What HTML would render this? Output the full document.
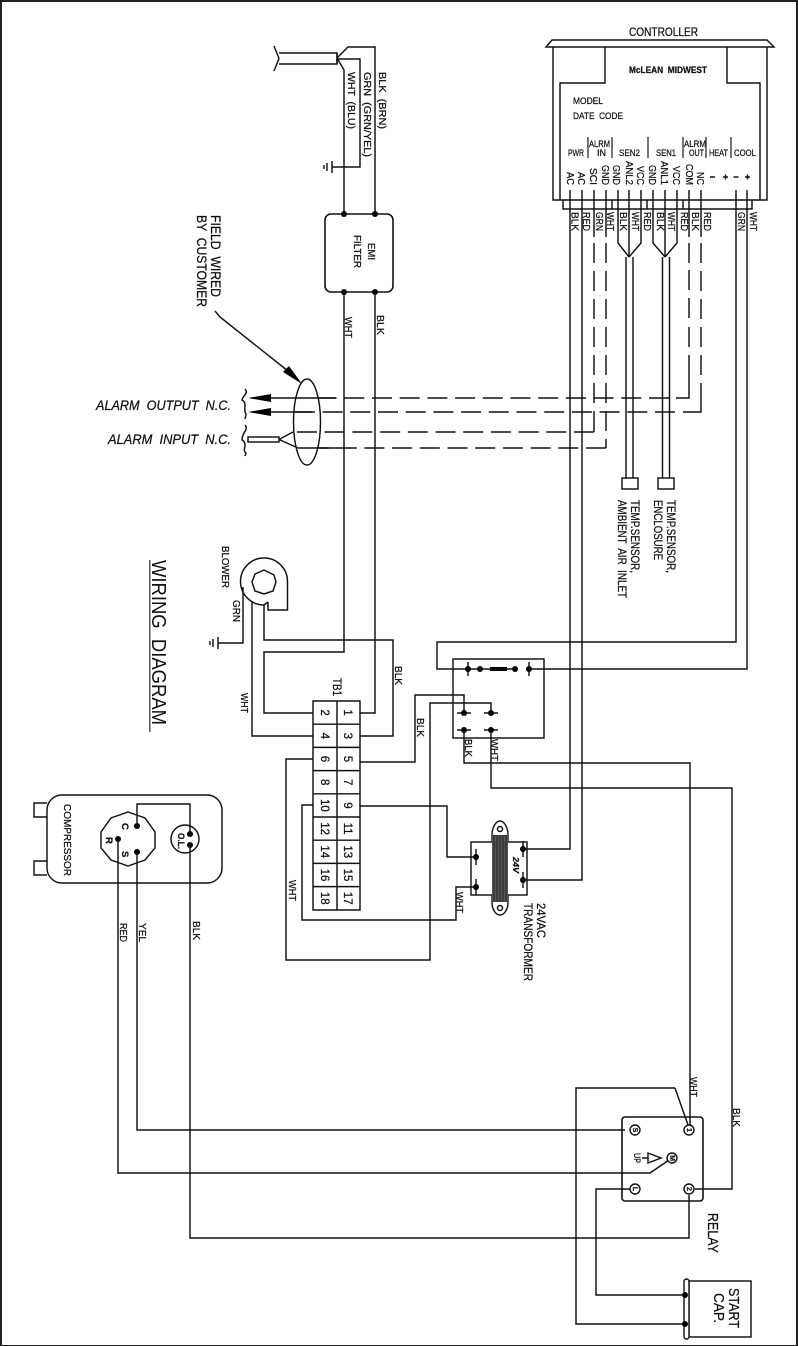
<!DOCTYPE html>
<html><head><meta charset="utf-8"><title>Wiring Diagram</title>
<style>
html,body{margin:0;padding:0;background:#fff}
svg{display:block}
text{font-family:"Liberation Sans",sans-serif;fill:#111;stroke:#111;stroke-width:.25px;white-space:pre}
.w{fill:none;stroke:#111;stroke-width:1.45}
.d{fill:none;stroke:#111;stroke-width:1.45;stroke-dasharray:20 7.7}
.n{fill:#000;stroke:none}
.f9{font-size:9.5px}.f10{font-size:10.5px}.f11{font-size:11.5px}.f13{font-size:13.5px}.f14{font-size:14.5px}
</style></head><body>
<svg width="798" height="1346" viewBox="0 0 798 1346" xmlns="http://www.w3.org/2000/svg">
<rect width="798" height="1346" fill="#fff"/>
<rect x="0" y="0" width="798" height="2" fill="#222"/>
<rect x="0" y="0" width="2" height="1346" fill="#222"/>
<rect x="796" y="0" width="2" height="1346" fill="#222"/>
<rect x="0" y="1345" width="798" height="1" fill="#222"/>

<!-- Controller -->
<path class="w" d="M546 47L552 40H767L774 47Z"/>
<path class="w" d="M553 47V200H767V47"/>
<path class="w" d="M605 47V83H560V200M727 47V83H760V200"/>
<path class="w" d="M563 200V209H752V200M612 200V209M647 200V209M683 200V209"/>
<path class="w" stroke-opacity=".8" d="M588 137V158M612 137V158M648 137V158M683 137V158M706 137V158M731 137V158"/>
<text x="629" y="36" class="f11" textLength="69" lengthAdjust="spacingAndGlyphs">CONTROLLER</text>
<text x="629" y="73" class="f9" font-weight="bold" textLength="78" lengthAdjust="spacingAndGlyphs">McLEAN  MIDWEST</text>
<text x="573" y="104" class="f9" textLength="30" lengthAdjust="spacingAndGlyphs">MODEL</text>
<text x="573" y="119" class="f9" textLength="50" lengthAdjust="spacingAndGlyphs">DATE  CODE</text>
<text x="568" y="156" class="f9" textLength="16" lengthAdjust="spacingAndGlyphs">PWR</text>
<text x="589" y="147" class="f9" textLength="21" lengthAdjust="spacingAndGlyphs">ALRM</text>
<text x="597" y="156" class="f9" textLength="9" lengthAdjust="spacingAndGlyphs">IN</text>
<text x="619" y="156" class="f9" textLength="21" lengthAdjust="spacingAndGlyphs">SEN2</text>
<text x="656" y="156" class="f9" textLength="20" lengthAdjust="spacingAndGlyphs">SEN1</text>
<text x="684" y="147" class="f9" textLength="22" lengthAdjust="spacingAndGlyphs">ALRM</text>
<text x="689" y="156" class="f9" textLength="15" lengthAdjust="spacingAndGlyphs">OUT</text>
<text x="709" y="156" class="f9" textLength="19" lengthAdjust="spacingAndGlyphs">HEAT</text>
<text x="734" y="156" class="f9" textLength="22" lengthAdjust="spacingAndGlyphs">COOL</text>
<g class="f10">
<text transform="translate(567 172) rotate(90)" textLength="13" lengthAdjust="spacingAndGlyphs">AC</text>
<text transform="translate(578 172) rotate(90)" textLength="13" lengthAdjust="spacingAndGlyphs">AC</text>
<text transform="translate(590 168) rotate(90)" textLength="17" lengthAdjust="spacingAndGlyphs">SCI</text>
<text transform="translate(602 165) rotate(90)" textLength="20" lengthAdjust="spacingAndGlyphs">GND</text>
<text transform="translate(613 165) rotate(90)" textLength="20" lengthAdjust="spacingAndGlyphs">GND</text>
<text transform="translate(626 161) rotate(90)" textLength="24" lengthAdjust="spacingAndGlyphs">ANL2</text>
<text transform="translate(637 166) rotate(90)" textLength="19" lengthAdjust="spacingAndGlyphs">VCC</text>
<text transform="translate(649 165) rotate(90)" textLength="20" lengthAdjust="spacingAndGlyphs">GND</text>
<text transform="translate(661 161) rotate(90)" textLength="24" lengthAdjust="spacingAndGlyphs">ANL1</text>
<text transform="translate(673 166) rotate(90)" textLength="19" lengthAdjust="spacingAndGlyphs">VCC</text>
<text transform="translate(686 164) rotate(90)" textLength="21" lengthAdjust="spacingAndGlyphs">COM</text>
<text transform="translate(697 172) rotate(90)" textLength="13" lengthAdjust="spacingAndGlyphs">NC</text>
</g>
<path class="w" d="M710 177h5M723 177h5M725.500 174.500v5M733.500 177h5M745 177h5M747.500 174.500v5"/>

<!-- Controller wires -->
<path class="w" d="M570 190V849H525M582 190V880H525"/>
<path class="w" d="M594 190V237M606 190V237M689 190V237M701 190V237"/>
<path class="w" d="M618 190V243L629 257M641 190V243L629 257M629 190V257M626 257V478M633 257V478"/>
<path class="w" d="M653 190V243L665 257M677 190V243L665 257M665 190V257M662.500 257V478M669.500 257V478"/>
<rect class="w" x="622" y="478" width="16" height="11"/>
<rect class="w" x="658" y="478" width="16" height="11"/>
<path class="w" d="M736 190V642H437V669H480M747 190V669H529"/>
<g class="f10">
<text transform="translate(571.500 212) rotate(90)" textLength="19" lengthAdjust="spacingAndGlyphs">BLK</text>
<text transform="translate(583 212) rotate(90)" textLength="19" lengthAdjust="spacingAndGlyphs">RED</text>
<text transform="translate(596 212) rotate(90)" textLength="19" lengthAdjust="spacingAndGlyphs">GRN</text>
<text transform="translate(607 212) rotate(90)" textLength="19" lengthAdjust="spacingAndGlyphs">WHT</text>
<text transform="translate(620 212) rotate(90)" textLength="19" lengthAdjust="spacingAndGlyphs">BLK</text>
<text transform="translate(632 212) rotate(90)" textLength="19" lengthAdjust="spacingAndGlyphs">WHT</text>
<text transform="translate(644 212) rotate(90)" textLength="19" lengthAdjust="spacingAndGlyphs">RED</text>
<text transform="translate(657 212) rotate(90)" textLength="19" lengthAdjust="spacingAndGlyphs">BLK</text>
<text transform="translate(668 212) rotate(90)" textLength="19" lengthAdjust="spacingAndGlyphs">WHT</text>
<text transform="translate(681 212) rotate(90)" textLength="19" lengthAdjust="spacingAndGlyphs">RED</text>
<text transform="translate(692 212) rotate(90)" textLength="19" lengthAdjust="spacingAndGlyphs">BLK</text>
<text transform="translate(704 212) rotate(90)" textLength="19" lengthAdjust="spacingAndGlyphs">RED</text>
<text transform="translate(738 212) rotate(90)" textLength="19" lengthAdjust="spacingAndGlyphs">GRN</text>
<text transform="translate(750 212) rotate(90)" textLength="19" lengthAdjust="spacingAndGlyphs">WHT</text>
</g>

<!-- Dashed alarm wires -->
<path class="w" d="M689 243V263M689 270V290M689 298V318M689 327V347M689 355V398H676"/>
<path class="w" d="M701 243V263M701 271V291M701 299V319M701 327V347M701 355V375M701 383V412H683"/>
<path class="w" d="M594 243V263M594 271V291M594 299V319M594 327V347M594 355V375M594 383V403M594 411V432"/>
<path class="w" d="M606 243V263M606 271V291M606 299V319M606 327V347M606 355V375M606 383V403M606 411V431M606 439V448"/>
<path class="d" d="M669 398H316"/><path class="w" d="M336 398H270"/>
<path class="d" d="M675 412H295"/><path class="w" d="M312 412H270"/>
<path class="d" d="M594 432H296"/>
<path class="d" d="M606 448H317"/><path class="w" d="M337 448H298"/>

<!-- Incoming cable -->
<path class="w" d="M279 53H337V64H279M274 46L279 58.500L274 71"/>
<path class="w" stroke-width="2" d="M337 53V64"/>
<path class="w" d="M337 58L348 47H375V214M337 58L344 70V214M337 59H360V167H332"/>
<path class="w" d="M332 161V173M327 163V171M324 165V169"/>
<text class="f10" transform="translate(379 72) rotate(90)" textLength="57" lengthAdjust="spacingAndGlyphs">BLK  (BRN)</text>
<text class="f10" transform="translate(364 72) rotate(90)" textLength="85" lengthAdjust="spacingAndGlyphs">GRN  (GRN/YEL)</text>
<text class="f10" transform="translate(348 72) rotate(90)" textLength="57" lengthAdjust="spacingAndGlyphs">WHT  (BLU)</text>

<!-- EMI Filter -->
<rect x="325" y="214" width="68" height="78" rx="6" fill="none" stroke="#111" stroke-width="1.600"/>
<circle class="n" cx="344" cy="214" r="3"/><circle class="n" cx="375" cy="214" r="3"/>
<circle class="n" cx="344" cy="292" r="3"/><circle class="n" cx="375" cy="292" r="3"/>
<text class="f10" transform="translate(368 243) rotate(90)" textLength="17" lengthAdjust="spacingAndGlyphs">EMI</text>
<text class="f10" transform="translate(354 235) rotate(90)" textLength="33" lengthAdjust="spacingAndGlyphs">FILTER</text>
<path class="w" d="M344 292V652H264V713H313M375 292V713H360"/>
<text class="f10" transform="translate(345 317) rotate(90)" textLength="21" lengthAdjust="spacingAndGlyphs">WHT</text>
<text class="f10" transform="translate(377 315) rotate(90)" textLength="20" lengthAdjust="spacingAndGlyphs">BLK</text>

<!-- Field wired -->
<text class="f13" transform="translate(211 215) rotate(90)" textLength="82" lengthAdjust="spacingAndGlyphs">FIELD  WIRED</text>
<text class="f13" transform="translate(197 215) rotate(90)" textLength="92" lengthAdjust="spacingAndGlyphs">BY  CUSTOMER</text>
<path class="w" d="M215 311L220 317L288 371"/>
<path class="n" d="M302 384L283 372L289 366Z"/>
<ellipse class="w" cx="307" cy="422" rx="13.500" ry="43"/>
<path class="n" d="M248 398L271 394V402ZM248 412L271 408V416Z"/>
<rect class="w" x="248" y="437" width="31" height="5"/>
<path class="w" d="M279 439.500L293 432M279 439.500L298 448"/>
<path class="w" d="M245 389C248 392 245 395 244 396C242 399 242 400 242 400C242 400 245 401 245 405C245 409 244 411 246 414C246 417 245 418 245 419M245 425C248 428 245 431 244 433C242 437 242 440 242 440C242 440 245 441 245 445C245 449 243 451 246 453L245 456"/>
<text class="f13" x="96" y="410" font-style="italic" textLength="135" lengthAdjust="spacingAndGlyphs">ALARM  OUTPUT  N.C.</text>
<text class="f13" x="108" y="444" font-style="italic" textLength="123" lengthAdjust="spacingAndGlyphs">ALARM  INPUT  N.C.</text>

<!-- Sensor labels -->
<g class="f11">
<text transform="translate(631 500) rotate(90)" textLength="73" lengthAdjust="spacingAndGlyphs">TEMP.SENSOR,</text>
<text transform="translate(618 500) rotate(90)" textLength="98" lengthAdjust="spacingAndGlyphs">AMBIENT  AIR  INLET</text>
<text transform="translate(667 500) rotate(90)" textLength="73" lengthAdjust="spacingAndGlyphs">TEMP.SENSOR,</text>
<text transform="translate(654 500) rotate(90)" textLength="60" lengthAdjust="spacingAndGlyphs">ENCLOSURE</text>
</g>

<!-- Title -->
<rect x="149" y="560" width="1.500" height="172" fill="#555"/>
<text transform="translate(152 560) rotate(90)" style="font-size:20px;stroke-width:0" textLength="165" lengthAdjust="spacingAndGlyphs">WIRING  DIAGRAM</text>

<!-- Blower -->
<text class="f10" transform="translate(222 546) rotate(90)" textLength="42" lengthAdjust="spacingAndGlyphs">BLOWER</text>
<path class="w" d="M268 602V610H287.500V582A23.500 23.500 0 1 0 264 605L268 602"/>
<polygon class="w" points="264,570 274,575 276,582 273,591 264,594 255,591 252,582 255,574"/>
<path class="w" d="M243 587V643H218M218 637V649M213 639V647M210 641V645"/>
<text class="f10" transform="translate(233 600) rotate(90)" textLength="22" lengthAdjust="spacingAndGlyphs">GRN</text>
<path class="w" d="M252 601V736H313M264 605V640H393V736H360"/>
<text class="f10" transform="translate(241 693) rotate(90)" textLength="20" lengthAdjust="spacingAndGlyphs">WHT</text>
<text class="f10" transform="translate(395 666) rotate(90)" textLength="19" lengthAdjust="spacingAndGlyphs">BLK</text>
<text class="f10" transform="translate(417 718) rotate(90)" textLength="19" lengthAdjust="spacingAndGlyphs">BLK</text>

<!-- TB1 -->
<text class="f11" transform="translate(333 678) rotate(90)" textLength="18" lengthAdjust="spacingAndGlyphs">TB1</text>
<path class="w" d="M313 701H360V910H313ZM337 701V910M313 724.200H360M313 747.400H360M313 770.600H360M313 793.800H360M313 817H360M313 840.200H360M313 863.400H360M313 886.600H360"/>
<g class="f11" text-anchor="middle">
<text transform="translate(321 712.600) rotate(90)">2</text><text transform="translate(344 712.600) rotate(90)">1</text>
<text transform="translate(321 735.800) rotate(90)">4</text><text transform="translate(344 735.800) rotate(90)">3</text>
<text transform="translate(321 759) rotate(90)">6</text><text transform="translate(344 759) rotate(90)">5</text>
<text transform="translate(321 782.200) rotate(90)">8</text><text transform="translate(344 782.200) rotate(90)">7</text>
<text transform="translate(321 805.400) rotate(90)">10</text><text transform="translate(344 805.400) rotate(90)">9</text>
<text transform="translate(321 828.600) rotate(90)">12</text><text transform="translate(344 828.600) rotate(90)">11</text>
<text transform="translate(321 851.800) rotate(90)">14</text><text transform="translate(344 851.800) rotate(90)">13</text>
<text transform="translate(321 875) rotate(90)">16</text><text transform="translate(344 875) rotate(90)">15</text>
<text transform="translate(321 898.200) rotate(90)">18</text><text transform="translate(344 898.200) rotate(90)">17</text>
</g>
<path class="w" d="M360 762H415V695H464V713M313 759H286V960H430V703H491V713"/>
<path class="w" d="M360 806H447V857H476M313 805H302V920H456V887H476"/>
<text class="f10" transform="translate(289 880) rotate(90)" textLength="21" lengthAdjust="spacingAndGlyphs">WHT</text>
<text class="f10" transform="translate(456 892) rotate(90)" textLength="21" lengthAdjust="spacingAndGlyphs">WHT</text>

<!-- Contactor -->
<rect class="w" x="453" y="659" width="91" height="79"/>
<path class="w" d="M468 662V676M529 662V676M457 713H471M484 713H498M457 730H471M484 730H498"/>
<g class="n">
<circle cx="468" cy="669" r="3"/><circle cx="480" cy="669" r="3"/><circle cx="515" cy="669" r="3"/><circle cx="529" cy="669" r="3"/>
<circle cx="464" cy="713" r="3"/><circle cx="491" cy="713" r="3"/><circle cx="464" cy="730" r="3"/><circle cx="491" cy="730" r="3"/>
<rect x="490" y="667" width="17" height="4"/>
</g>
<path class="w" d="M480 669H515"/>
<path class="w" d="M464 730V763H690V1125"/>
<path class="w" d="M491 730V788H732V1189H695"/>
<text class="f10" transform="translate(465 739) rotate(90)" textLength="18" lengthAdjust="spacingAndGlyphs">BLK</text>
<text class="f10" transform="translate(491 739) rotate(90)" textLength="22" lengthAdjust="spacingAndGlyphs">WHT</text>

<!-- Transformer -->
<rect class="w" x="471" y="842" width="56" height="53"/>
<path d="M492 842V835C492 827 496 821 500 821C504 821 508 827 508 835V842" fill="#fff" stroke="#111" stroke-width="1.400"/>
<path d="M492 895V902C492 910 496 915 500 915C504 915 508 910 508 902V895" fill="#fff" stroke="#111" stroke-width="1.400"/>
<circle class="w" cx="500" cy="829" r="2.500"/><circle class="w" cx="500" cy="908" r="2.500"/>
<rect x="492" y="835" width="16" height="67" fill="#555"/>
<path stroke="#222" stroke-width="1" d="M494 835V902M497 835V902M500 835V902M503 835V902M506 835V902"/>
<path class="w" d="M476 849V865M476 879V895M523 841V857M523 872V888"/>
<g class="n"><circle cx="476" cy="857" r="3"/><circle cx="476" cy="887" r="3"/><circle cx="523" cy="849" r="3"/><circle cx="523" cy="880" r="3"/></g>
<text transform="translate(513 857) rotate(90)" style="font-size:8px;font-weight:bold;font-style:italic" textLength="16" lengthAdjust="spacingAndGlyphs">24V</text>
<text class="f11" transform="translate(537 903) rotate(90)" textLength="35" lengthAdjust="spacingAndGlyphs">24VAC</text>
<text class="f11" transform="translate(524 903) rotate(90)" textLength="78" lengthAdjust="spacingAndGlyphs">TRANSFORMER</text>

<!-- Compressor -->
<rect class="w" x="47" y="795" width="175" height="88" rx="15"/>
<path class="w" d="M47 803H34V817H47M47 861H34V875H47"/>
<text class="f10" transform="translate(64 804) rotate(90)" textLength="72" lengthAdjust="spacingAndGlyphs">COMPRESSOR</text>
<polygon class="w" points="128,812 145,818 155,832 155,848 145,860 128,866 111,860 101,848 101,832 111,818"/>
<circle class="w" cx="185" cy="839" r="14"/>
<g class="n"><circle cx="137" cy="826" r="3"/><circle cx="137" cy="852" r="3"/><circle cx="118" cy="839" r="3"/><circle cx="190" cy="834" r="3"/><circle cx="190" cy="845" r="3"/></g>
<g class="f9" font-weight="bold">
<text transform="translate(122 823) rotate(90)">C</text>
<text transform="translate(122 851) rotate(90)">S</text>
<text transform="translate(106 837) rotate(90)">R</text>
<text transform="translate(178 833) rotate(90)" textLength="16" lengthAdjust="spacingAndGlyphs">O.L.</text>
</g>
<path class="w" d="M137 826V804H190V834"/>
<path class="w" d="M137 852V1130H625M118 839V1173H650L672 1158M190 845V1238H689V1195"/>
<text class="f10" transform="translate(120 923) rotate(90)" textLength="19" lengthAdjust="spacingAndGlyphs">RED</text>
<text class="f10" transform="translate(139 923) rotate(90)" textLength="19" lengthAdjust="spacingAndGlyphs">YEL</text>
<text class="f10" transform="translate(193 921) rotate(90)" textLength="19" lengthAdjust="spacingAndGlyphs">BLK</text>

<!-- Relay -->
<path class="w" d="M675 1088H576V1324H685M675 1088L688 1125M630 1189H596V1295H685"/>
<rect x="622" y="1117" width="81" height="84" rx="3" fill="none" stroke="#111" stroke-width="1.600"/>
<g fill="#fff" stroke="#111" stroke-width="1.400">
<circle cx="635" cy="1130" r="5"/><circle cx="689" cy="1130" r="5"/><circle cx="672" cy="1158" r="5"/><circle cx="635" cy="1189" r="5"/><circle cx="689" cy="1189" r="5"/>
</g>
<g style="font-size:7px;font-weight:bold" text-anchor="middle">
<text transform="translate(633 1130) rotate(90)">S</text>
<text transform="translate(687 1130) rotate(90)">1</text>
<text transform="translate(670 1158) rotate(90)">M</text>
<text transform="translate(633 1189) rotate(90)">L</text>
<text transform="translate(687 1189) rotate(90)">2</text>
</g>
<text class="f9" transform="translate(634 1153) rotate(90)" textLength="10" lengthAdjust="spacingAndGlyphs">UP</text>
<path class="w" d="M642 1158H648M648 1153L661 1158L648 1163Z"/>
<text class="f10" transform="translate(690 1077) rotate(90)" textLength="20" lengthAdjust="spacingAndGlyphs">WHT</text>
<text class="f10" transform="translate(733 1108) rotate(90)" textLength="19" lengthAdjust="spacingAndGlyphs">BLK</text>
<text class="f14" transform="translate(708 1213) rotate(90)" textLength="40" lengthAdjust="spacingAndGlyphs">RELAY</text>

<!-- Start Cap -->
<rect class="w" x="689" y="1281" width="62" height="56"/>
<rect x="684" y="1279" width="5" height="60" rx="2.500" fill="#fff" stroke="#111" stroke-width="1.400"/>
<circle class="n" cx="685" cy="1295" r="3"/><circle class="n" cx="685" cy="1324" r="3"/>
<text class="f14" transform="translate(729 1288) rotate(90)" textLength="40" lengthAdjust="spacingAndGlyphs">START</text>
<text class="f14" transform="translate(714 1293) rotate(90)" textLength="30" lengthAdjust="spacingAndGlyphs">CAP.</text>
</svg>
</body></html>
